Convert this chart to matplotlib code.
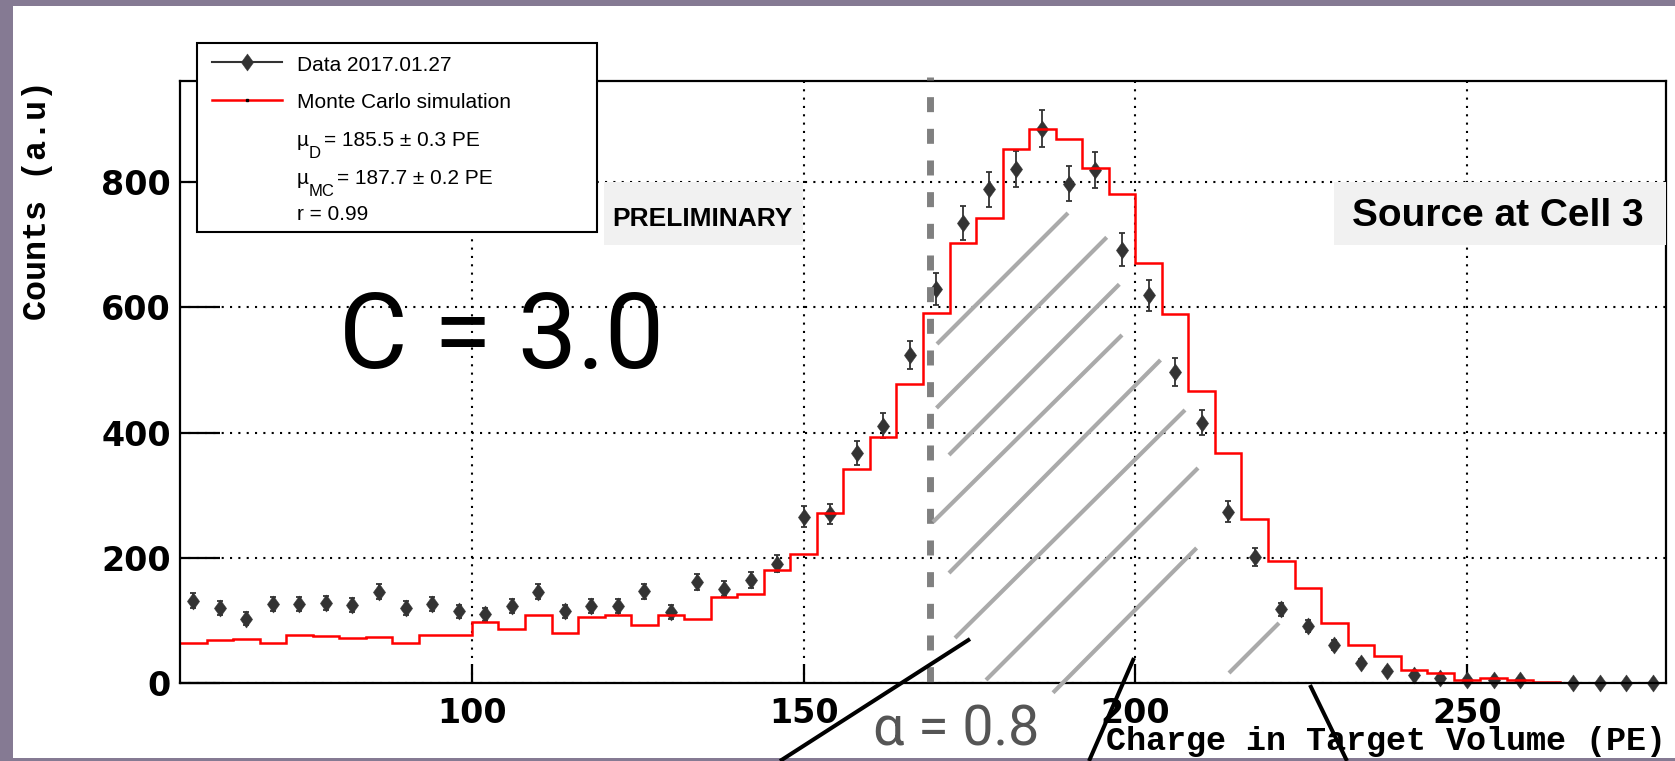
import numpy as np
import matplotlib
matplotlib.use('Agg')
import matplotlib.pyplot as plt
from matplotlib.path import Path
from matplotlib.lines import Line2D
from matplotlib.patches import Rectangle

W, H = 1675, 761

# ---------------- data ----------------
bin_edges = np.arange(56, 284, 4)          # 56 ... 280 (PE)
data_counts = [132, 120, 103, 126, 127, 128, 125, 146, 120, 126,
               115, 110, 124, 146, 115, 124, 123, 147, 114, 162,
               151, 165, 191, 266, 270, 368, 411, 524, 629, 734,
               788, 820, 885, 797, 819, 692, 619, 497, 416, 274,
               202, 118, 92, 61, 33, 20, 14, 9, 5, 6,
               5, np.nan, 1, 1, 1, 1]
mc_counts = [64, 69, 70, 65, 77, 76, 73, 74, 65, 77,
             77, 98, 87, 109, 81, 106, 109, 93, 109, 102,
             137, 142, 181, 207, 271, 342, 393, 477, 591, 703,
             743, 852, 885, 869, 822, 780, 670, 590, 466, 368,
             262, 195, 152, 96, 61, 44, 21, 17, 6, 8,
             5, 2.5, 1, 1, 0.5, 0.5]
x_ticks = [100, 150, 200, 250]
y_ticks = [0, 200, 400, 600, 800]

legend_data = "Data 2017.01.27"
legend_mc = "Monte Carlo simulation"
mu_d = "= 185.5 \u00b1 0.3 PE"
mu_mc = "= 187.7 \u00b1 0.2 PE"
r_text = "r = 0.99"


def fx(x):
    return x / W


def fy(y):
    return 1 - y / H


diamond = Path([(0, 1), (0.72, 0), (0, -1), (-0.72, 0), (0, 1)],
               [Path.MOVETO, Path.LINETO, Path.LINETO, Path.LINETO, Path.CLOSEPOLY])
MS = 12.3

fig = plt.figure(figsize=(W / 100, H / 100), dpi=100)
fig.patch.set_facecolor('#857a93')
fig.add_artist(Rectangle((fx(13), fy(758)), (1675 - 13) / W, (758 - 6) / H,
                         transform=fig.transFigure, facecolor='white',
                         edgecolor='none', zorder=-10))

ax = fig.add_axes([fx(180), fy(683.3), (1666 - 180) / W, (683.3 - 81) / H])
ax.set_xlim(56, 280)
ax.set_ylim(0, 961)
ax.set_facecolor('white')

centers = (bin_edges[:-1] + bin_edges[1:]) / 2
vals = np.array(data_counts, dtype=float)
ok = ~np.isnan(vals)

ax.errorbar(centers[ok], vals[ok], yerr=np.sqrt(vals[ok]), fmt='none',
            ecolor='#333333', elinewidth=1.3, capsize=2.5, capthick=1.3,
            zorder=3, clip_on=False)
ax.plot(centers[ok], vals[ok], linestyle='none', marker=diamond, ms=MS,
        color='#333333', mew=0.3, zorder=3.5, clip_on=False)
ax.stairs(mc_counts, bin_edges, color='red', linewidth=1.8, zorder=4,
          baseline=None)

ax.set_xticks(x_ticks)
ax.set_yticks(y_ticks)
ax.tick_params(axis='both', direction='in', width=1.6, color='black',
               labelsize=24)
ax.tick_params(axis='x', length=13.7, pad=10)
ax.tick_params(axis='y', length=28.8, pad=6.5)
for lab in ax.get_xticklabels() + ax.get_yticklabels():
    lab.set_fontweight('bold')
    lab.set_fontfamily('DejaVu Sans')
ax.grid(True, color='black', linestyle=(0, (1, 3)), linewidth=1.5)
ax.set_axisbelow(True)
for s in ax.spines.values():
    s.set_linewidth(1.6)
    s.set_zorder(5)

# axis titles
fig.text(fx(1666), fy(750), "Charge in Target Volume (PE)", ha='right',
         va='baseline', fontsize=24, fontweight='bold', family='Liberation Mono')
fig.text(fx(46), fy(320), "Counts (a.u)", ha='left', va='baseline',
         rotation=90, rotation_mode='anchor', fontsize=24, fontweight='bold',
         family='Liberation Mono')

# cut line (dashed gray)
fig.add_artist(Line2D([fx(930), fx(930)], [fy(77), fy(687)], color='#808080',
                      lw=5.0, linestyle=(1.73, (2.16, 2.4)),
                      dash_capstyle='butt', zorder=3))

# hatch overlay lines
hatch = [((937, 344), (1068, 213)), ((936.5, 408), (1106.7, 237.3)),
         ((949, 455), (1119.3, 284.3)), ((933, 522), (1122, 335)),
         ((949, 573), (1160.5, 360)), ((955, 638), (1185, 410)),
         ((986, 680), (1198, 468)), ((1053, 692.7), (1196.6, 548)),
         ((1229, 673), (1279, 623))]
for (x0, y0), (x1, y1) in hatch:
    fig.add_artist(Line2D([fx(x0), fx(x1)], [fy(y0), fy(y1)], color='#aaaaaa',
                          lw=3.0, solid_capstyle='butt', zorder=3))

# black pointer lines
for (x0, y0), (x1, y1) in [((970, 639), (780, 761)), ((1134, 658), (1089, 761)),
                           ((1310, 685), (1347, 761))]:
    fig.add_artist(Line2D([fx(x0), fx(x1)], [fy(y0), fy(y1)], color='black',
                          lw=2.9, solid_capstyle='butt', zorder=3))

# boxes
fig.add_artist(Rectangle((fx(604), fy(245)), (803 - 604) / W, (245 - 182) / H,
                         facecolor='#f1f1f1', edgecolor='none', zorder=2))
fig.text(fx(702), fy(225.5), "PRELIMINARY", ha='center', va='baseline',
         fontsize=19, fontweight='bold', family='Liberation Sans', zorder=4)
fig.add_artist(Rectangle((fx(1334), fy(245)), (1666 - 1334) / W, (245 - 182) / H,
                         facecolor='#f1f1f1', edgecolor='none', zorder=2))
fig.text(fx(1498), fy(226), "Source at Cell 3", ha='center', va='baseline',
         fontsize=28, fontweight='bold', family='Liberation Sans', zorder=4)

# big annotations
fig.text(fx(339), fy(368), "C = 3.0", ha='left', va='baseline', fontsize=76,
         family='Roboto', fontweight='normal', color='black', zorder=4)
fig.text(fx(873), fy(745.5), "\u03b1 = 0.8", ha='left', va='baseline',
         fontsize=40, family='Roboto', fontweight='normal', color='#555555',
         zorder=4)

# legend
fig.add_artist(Rectangle((fx(197), fy(232)), (597 - 197) / W, (232 - 43) / H,
                         facecolor='white', edgecolor='black', linewidth=1.5,
                         zorder=6))
fig.add_artist(Line2D([fx(212), fx(282)], [fy(62), fy(62)], color='#333333',
                      lw=1.5, zorder=7))
fig.add_artist(Line2D([fx(247)], [fy(62)], marker=diamond, ms=MS,
                      color='#333333', mew=0.3, ls='none', zorder=7))
fig.add_artist(Line2D([fx(212), fx(282)], [fy(100), fy(100)], color='red',
                      lw=1.8, zorder=7))
fig.add_artist(Line2D([fx(247)], [fy(100)], marker='s', ms=1.5, color='black',
                      ls='none', zorder=8))
lkw = dict(ha='left', va='baseline', fontsize=15, family='Liberation Sans',
           zorder=8)
fig.text(fx(297), fy(71), legend_data, **lkw)
fig.text(fx(297), fy(108.5), legend_mc, **lkw)
fig.text(fx(297), fy(146.5), "\u00b5", **lkw)
fig.text(fx(309), fy(158), "D", ha='left', va='baseline', fontsize=12,
         family='Liberation Sans', zorder=8)
fig.text(fx(324.5), fy(146.5), mu_d, **lkw)
fig.text(fx(297), fy(184.5), "\u00b5", **lkw)
fig.text(fx(309), fy(196), "MC", ha='left', va='baseline', fontsize=12,
         family='Liberation Sans', zorder=8)
fig.text(fx(337), fy(184.5), mu_mc, **lkw)
fig.text(fx(297), fy(220.5), r_text, **lkw)

fig.savefig('out.png', dpi=100, facecolor=fig.get_facecolor())
